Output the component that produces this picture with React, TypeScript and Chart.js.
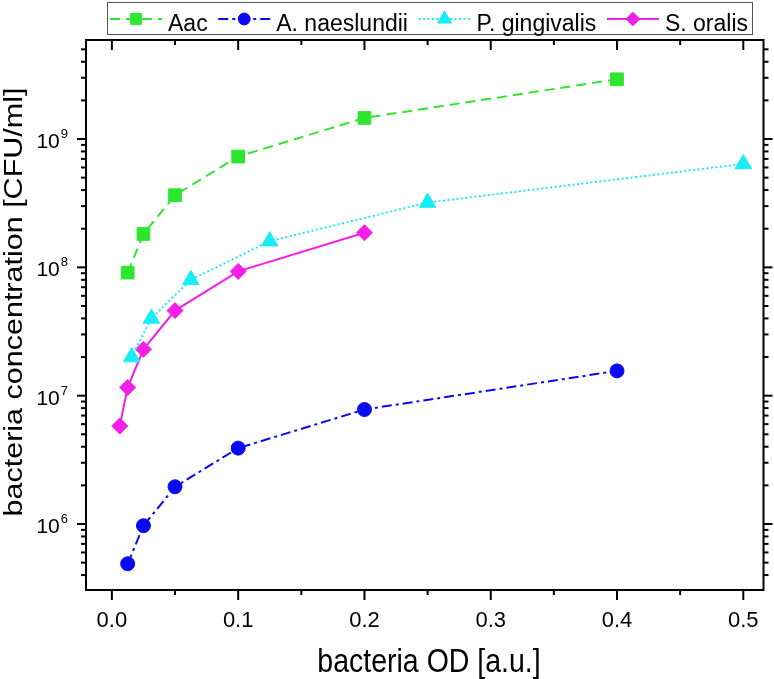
import { useEffect, useRef } from "react"
import { Chart, registerables, type ChartConfiguration, type Plugin } from "chart.js"
import { drawPoint } from "chart.js/helpers"

Chart.register(...registerables)

const FONT = '"Liberation Sans", Arial, sans-serif'

// bacteria OD [a.u.] vs concentration [CFU/ml]
const aacOD = [0.0125, 0.025, 0.05, 0.1, 0.2, 0.4]
const aacCFU = [9.1e7, 1.82e8, 3.65e8, 7.3e8, 1.46e9, 2.92e9]

const naesOD = [0.0125, 0.025, 0.05, 0.1, 0.2, 0.4]
const naesCFU = [4.9e5, 9.7e5, 1.95e6, 3.9e6, 7.8e6, 1.56e7]

const gingOD = [0.015625, 0.03125, 0.0625, 0.125, 0.25, 0.5]
const gingCFU = [2.0e7, 4.0e7, 8.0e7, 1.6e8, 3.2e8, 6.4e8]

const oralOD = [0.00625, 0.0125, 0.025, 0.05, 0.1, 0.2]
const oralCFU = [5.8e6, 1.16e7, 2.3e7, 4.6e7, 9.3e7, 1.86e8]

const xTickValues = [0, 0.1, 0.2, 0.3, 0.4, 0.5]
const xTickLabels = ["0.0", "0.1", "0.2", "0.3", "0.4", "0.5"]
const xMinorValues = [0.05, 0.15, 0.25, 0.35, 0.45]
const yDecades = [6, 7, 8, 9]

const xTitle = "bacteria OD [a.u.]"
const yTitle = "bacteria concentration [CFU/ml]"

function points(xs: number[], ys: number[]) {
  return xs.map((x, i) => ({ x, y: ys[i] }))
}

const axesPlugin: Plugin = {
  id: "originAxes",
  afterDraw(chart) {
    const { ctx, chartArea: a } = chart
    const xs = chart.scales.x
    const ys = chart.scales.y
    const line = (x1: number, y1: number, x2: number, y2: number) => {
      ctx.beginPath()
      ctx.moveTo(x1, y1)
      ctx.lineTo(x2, y2)
      ctx.stroke()
    }
    ctx.save()
    ctx.strokeStyle = "#000"
    ctx.fillStyle = "#000"
    ctx.lineWidth = 2
    ctx.strokeRect(a.left, a.top, a.right - a.left, a.bottom - a.top)

    xTickValues.forEach((v) => {
      const px = xs.getPixelForValue(v)
      line(px, a.bottom, px, a.bottom + 10)
      line(px, a.top, px, a.top + 10)
    })
    xMinorValues.forEach((v) => {
      const px = xs.getPixelForValue(v)
      line(px, a.bottom, px, a.bottom + 5)
      line(px, a.top, px, a.top + 5)
    })

    for (let d = 5; d <= 9; d++) {
      for (let m = 1; m <= 9; m++) {
        const v = m * Math.pow(10, d)
        if (v < ys.min || v > ys.max) continue
        const py = ys.getPixelForValue(v)
        const len = m === 1 ? 9 : 5
        line(a.left - len, py, a.left, py)
        line(a.right, py, a.right + len, py)
      }
    }

    ctx.font = `22px ${FONT}`
    ctx.textAlign = "center"
    ctx.textBaseline = "alphabetic"
    xTickValues.forEach((v, i) => {
      ctx.fillText(xTickLabels[i], xs.getPixelForValue(v), 627)
    })

    yDecades.forEach((d) => {
      const py = ys.getPixelForValue(Math.pow(10, d))
      ctx.font = `13px ${FONT}`
      ctx.textAlign = "right"
      const exp = String(d)
      ctx.fillText(exp, 68, py - 1)
      const ew = ctx.measureText(exp).width
      ctx.font = `21px ${FONT}`
      ctx.fillText("10", 68 - ew - 1, py + 9)
    })

    // axis titles are drawn a little stretched, like the figure's
    ctx.textAlign = "center"
    ctx.save()
    ctx.font = `28.5px ${FONT}`
    ctx.translate(429, 672)
    ctx.scale(1, 1.17)
    ctx.fillText(xTitle, 0, 0)
    ctx.restore()

    ctx.save()
    ctx.font = `25px ${FONT}`
    ctx.translate(22, 302)
    ctx.rotate(-Math.PI / 2)
    ctx.scale(1.22, 1)
    ctx.fillText(yTitle, 0, 0)
    ctx.restore()
    ctx.restore()
  },
}

const legendPlugin: Plugin = {
  id: "boxLegend",
  afterDraw(chart) {
    const { ctx } = chart
    const box = { left: 107, top: 2, right: 752, bottom: 34 }
    const cy = 19
    const seg = 52
    const textOffset = 58
    ctx.save()
    ctx.font = `23px ${FONT}`
    const sets = chart.data.datasets as any[]
    const widths = sets.map((s) => ctx.measureText(s.label).width)
    const used = sets.length * textOffset + widths.reduce((p, w) => p + w, 0)
    const gap = (box.right - box.left - 7 - used) / (sets.length - 1)

    ctx.fillStyle = "#fff"
    ctx.fillRect(box.left, box.top, box.right - box.left, box.bottom - box.top)
    ctx.strokeStyle = "#555"
    ctx.lineWidth = 1
    ctx.strokeRect(box.left + 0.5, box.top + 0.5, box.right - box.left, box.bottom - box.top)

    let x = box.left + 3
    sets.forEach((s, i) => {
      ctx.strokeStyle = s.borderColor
      ctx.fillStyle = s.backgroundColor
      ctx.lineWidth = 2
      ctx.setLineDash(s.borderDash || [])
      ctx.beginPath()
      ctx.moveTo(x, cy)
      ctx.lineTo(x + seg, cy)
      ctx.stroke()
      ctx.setLineDash([])
      ctx.lineWidth = 1
      drawPoint(ctx, { pointStyle: s.pointStyle, radius: s.pointRadius * 0.85, rotation: 0, borderWidth: 1 }, x + seg / 2, cy)
      ctx.fillStyle = "#000"
      ctx.textAlign = "left"
      ctx.textBaseline = "alphabetic"
      ctx.fillText(s.label, x + textOffset, 31)
      x += textOffset + widths[i] + gap
    })
    ctx.restore()
  },
}

export default function App() {
  const canvasRef = useRef<HTMLCanvasElement>(null)
  const chartRef = useRef<Chart | null>(null)

  useEffect(() => {
    if (!canvasRef.current) return
    if (chartRef.current) chartRef.current.destroy()

    const green = "#2fe62f"
    const blue = "#0a0af2"
    const cyan = "#18ecf6"
    const magenta = "#f41ee8"

    const config: ChartConfiguration = {
      type: "line",
      data: {
        datasets: [
          {
            label: "Aac",
            data: points(aacOD, aacCFU),
            borderColor: green,
            backgroundColor: green,
            borderWidth: 2,
            borderDash: [10, 6],
            pointStyle: "rect",
            pointRadius: 9,
            pointBorderWidth: 1,
          },
          {
            label: "A. naeslundii",
            data: points(naesOD, naesCFU),
            borderColor: blue,
            backgroundColor: blue,
            borderWidth: 2,
            borderDash: [10, 4, 3, 4],
            pointStyle: "circle",
            pointRadius: 7,
            pointBorderWidth: 1,
          },
          {
            label: "P. gingivalis",
            data: points(gingOD, gingCFU),
            borderColor: cyan,
            backgroundColor: cyan,
            borderWidth: 2,
            borderDash: [2, 2.5],
            pointStyle: "triangle",
            pointRadius: 9.5,
            pointBorderWidth: 1,
          },
          {
            label: "S. oralis",
            data: points(oralOD, oralCFU),
            borderColor: magenta,
            backgroundColor: magenta,
            borderWidth: 2,
            pointStyle: "rectRot",
            pointRadius: 8,
            pointBorderWidth: 1,
          },
        ],
      },
      options: {
        responsive: false,
        animation: false,
        layout: { padding: { left: 86, right: 7, top: 40, bottom: 89 } },
        elements: { line: { tension: 0 } },
        plugins: {
          legend: { display: false },
          tooltip: { enabled: false },
        },
        scales: {
          x: { type: "linear", display: false, min: -0.0205, max: 0.516, bounds: "data" },
          y: { type: "logarithmic", display: false, min: 3.06e5, max: 5.91e9, bounds: "data" },
        },
      },
      plugins: [axesPlugin, legendPlugin],
    }

    chartRef.current = new Chart(canvasRef.current, config)

    return () => {
      if (chartRef.current) {
        chartRef.current.destroy()
        chartRef.current = null
      }
    }
  }, [])

  return (
    <div style={{ position: "fixed", left: 0, top: 0, width: 774, height: 679, background: "#fff" }}>
      <canvas ref={canvasRef} width={774} height={679}></canvas>
    </div>
  )
}
